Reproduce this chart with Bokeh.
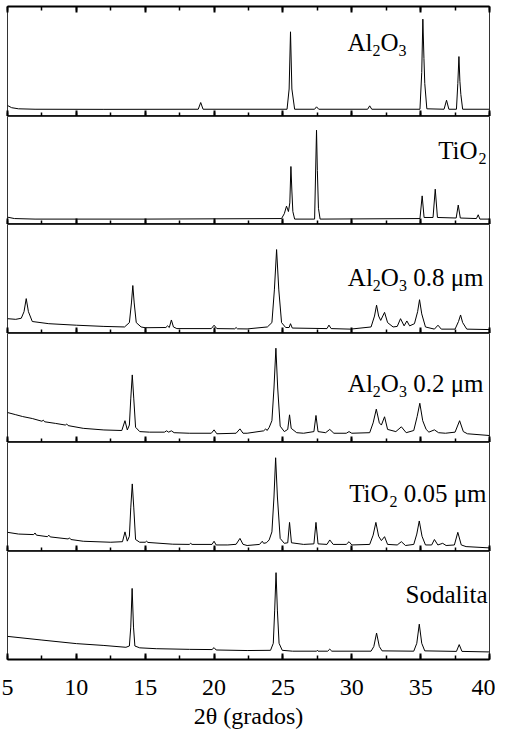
from bokeh.plotting import figure
from bokeh.models import Range1d, LinearAxis, SingleIntervalTicker, Label
from bokeh.layouts import column
from bokeh.embed import file_html
from bokeh.resources import INLINE

# ---------------- data (2theta in degrees, intensity in % of panel height) -------------
al2o3 = [(5.0, 10), (5.3, 8), (5.8, 7), (7.0, 6.6), (12.0, 6.5), (18.85, 6.6), (19.03, 12.7), (19.2, 6.6),
         (25.3, 6.6), (25.45, 25), (25.55, 77), (25.65, 25), (25.85, 6.6), (27.3, 6.6), (27.44, 8.8),
         (27.6, 6.6), (31.15, 6.6), (31.3, 9.7), (31.45, 6.6), (34.95, 6.6), (35.08, 40), (35.16, 88.5),
         (35.24, 52.7), (35.3, 30), (35.45, 7), (36.7, 6.6), (36.88, 14.8), (37.05, 6.6), (37.6, 6.6),
         (37.7, 30), (37.78, 54.5), (37.85, 32), (37.92, 20), (38.05, 6.6), (40.0, 6.6)]

tio2 = [(5.0, 6.8), (5.5, 5.5), (7.0, 5), (15.0, 5), (24.9, 5.5), (25.1, 10), (25.26, 17), (25.4, 12),
        (25.5, 20), (25.58, 53.7), (25.65, 31), (25.72, 12), (25.85, 5), (27.3, 5), (27.44, 87.3),
        (27.5, 50), (27.58, 15), (27.7, 5), (34.95, 5.5), (35.11, 26.5), (35.25, 6.5), (35.9, 6.5),
        (36.06, 32.7), (36.22, 6.5), (37.58, 6), (37.73, 18), (37.88, 6), (39.05, 5.5), (39.18, 9),
        (39.3, 5), (40.0, 5)]

al2o3_08 = [(5.0, 13.6), (5.6, 13), (6.0, 14), (6.2, 20), (6.36, 32), (6.52, 20), (6.8, 11), (8.0, 9),
            (10.0, 7.6), (12.0, 6.5), (13.5, 6), (13.85, 10), (14.0, 28), (14.1, 44), (14.2, 28),
            (14.35, 10), (14.7, 6), (15.0, 5.3), (16.5, 5.5), (16.62, 7), (16.75, 5.5), (16.9, 12.4),
            (17.05, 6), (17.3, 4.5), (19.8, 4.5), (20.0, 7.6), (20.2, 4.5), (21.5, 4.3), (21.6, 5.5),
            (21.7, 4.3), (22.4, 4.2), (23.87, 6), (24.2, 10), (24.38, 40), (24.54, 77), (24.7, 40),
            (24.9, 10), (25.2, 5.5), (25.45, 5.5), (25.55, 9), (25.68, 5), (28.2, 4.5), (28.34, 7.7),
            (28.5, 4.5), (29.9, 4), (31.4, 6), (31.65, 16), (31.8, 26), (31.95, 16), (32.1, 12),
            (32.38, 19.4), (32.6, 10), (33.0, 6), (33.3, 6.5), (33.54, 13.6), (33.8, 7), (34.0, 11.5),
            (34.2, 7), (34.55, 9), (34.78, 20), (34.92, 31), (35.08, 18), (35.35, 6), (36.0, 4),
            (36.26, 7.6), (36.5, 4), (37.5, 4), (37.75, 11), (37.9, 17), (38.05, 10), (38.35, 4),
            (40.0, 3.6)]

al2o3_02 = [(5.0, 27.5), (5.6, 25.5), (6.1, 23.8), (6.8, 22), (7.5, 19.5), (7.6, 20.5), (7.7, 19),
            (8.5, 17.5), (9.2, 16), (9.3, 17), (9.4, 15.5), (10.5, 13), (12.0, 11.5), (13.3, 11),
            (13.53, 20), (13.7, 11.5), (13.85, 16), (13.95, 40), (14.06, 62), (14.17, 40), (14.3, 14),
            (14.6, 10), (15.3, 9.5), (16.4, 9.5), (16.55, 10.7), (16.7, 9.5), (16.9, 10.7), (17.1, 9),
            (18.2, 8.5), (19.8, 8.5), (20.0, 11.6), (20.2, 8), (21.6, 8.5), (21.88, 12.5), (22.1, 8.5),
            (22.4, 8.5), (23.6, 10.7), (23.75, 12.5), (23.85, 11), (24.0, 13.8), (24.2, 20),
            (24.35, 50), (24.49, 86.5), (24.62, 50), (24.8, 15), (25.1, 10), (25.35, 12), (25.48, 25.4),
            (25.6, 13), (26.0, 9), (26.5, 8.5), (27.25, 10), (27.4, 24.8), (27.55, 10), (28.1, 9),
            (28.4, 12), (28.7, 8.5), (29.6, 8.5), (29.8, 10), (30.0, 8.5), (31.3, 9), (31.55, 18),
            (31.78, 30.6), (32.0, 18), (32.15, 16), (32.38, 23.6), (32.6, 12), (33.2, 10), (33.6, 14.4),
            (33.95, 9), (34.5, 11), (34.75, 24), (34.94, 36), (35.15, 20), (35.4, 12), (35.6, 9.5),
            (36.0, 11.6), (36.3, 9), (36.8, 8.5), (37.5, 9.5), (37.83, 20), (38.1, 10), (38.4, 8),
            (40.0, 6.4)]

tio2_005 = [(5.0, 17.6), (5.8, 16), (6.9, 15.5), (7.0, 17), (7.1, 15), (7.9, 13.6), (8.0, 15), (8.1, 13.4),
            (9.4, 11.5), (9.5, 12.5), (9.6, 11), (10.5, 9.4), (12.5, 8.5), (13.35, 9), (13.53, 18),
            (13.7, 9.5), (13.85, 14), (13.95, 40), (14.06, 62), (14.17, 40), (14.3, 11), (14.6, 8.5),
            (15.0, 8.5), (15.1, 9.4), (15.2, 8.3), (17.0, 6.7), (18.2, 6.5), (18.3, 7.5), (18.4, 6.5),
            (19.85, 6.5), (20.0, 9.4), (20.15, 6), (21.0, 6), (21.6, 6.6), (21.88, 12), (22.1, 6.6),
            (22.4, 5.5), (23.3, 6.5), (23.5, 9.4), (23.6, 7.5), (23.8, 8), (24.0, 10.6), (24.2, 18),
            (24.35, 50), (24.47, 86), (24.6, 50), (24.8, 12), (25.1, 7.5), (25.35, 8), (25.48, 26.7),
            (25.62, 8), (26.5, 6.5), (27.25, 7), (27.4, 26.7), (27.55, 7), (28.2, 6.5), (28.4, 10.6),
            (28.65, 6.5), (29.6, 6.5), (29.8, 9), (30.0, 6), (31.3, 6.5), (31.55, 15), (31.75, 26.7),
            (31.95, 14), (32.15, 10), (32.38, 13.6), (32.6, 6.5), (33.3, 6), (33.6, 9), (33.9, 5.5),
            (34.5, 6.5), (34.72, 16), (34.9, 28), (35.1, 14), (35.35, 6), (35.8, 6), (36.0, 11),
            (36.25, 6), (36.6, 7.5), (36.85, 5.5), (37.45, 6), (37.7, 17.6), (37.95, 6), (38.3, 4.5),
            (40.0, 3.3)]

sodalita = [(5.0, 21.4), (7.5, 18), (10.0, 14.7), (12.0, 13), (13.6, 11.3), (13.85, 12.5), (13.95, 30),
            (14.05, 65.8), (14.15, 30), (14.25, 12.5), (14.6, 10.8), (15.8, 10), (18.2, 9.4),
            (19.85, 9.2), (20.0, 11), (20.15, 8.8), (22.4, 8.3), (24.1, 8.5), (24.3, 15), (24.4, 45),
            (24.5, 80.4), (24.6, 45), (24.72, 15), (24.95, 8.5), (25.7, 7.7), (27.45, 7.7), (27.5, 8.5),
            (27.55, 7.7), (28.25, 7.7), (28.4, 9.6), (28.55, 7.7), (31.4, 7.7), (31.6, 12), (31.8, 24.5),
            (32.0, 12), (32.2, 8), (34.5, 7.7), (34.72, 15), (34.9, 32.7), (35.08, 15), (35.3, 8),
            (37.6, 7.5), (37.8, 13.8), (38.0, 7.5), (40.0, 7)]

# label pieces: (text, is_subscript); " " entries are gaps only
labels = [
    [("Al", 0), ("2", 1), ("O", 0), ("3", 1)],
    [("TiO", 0), ("2", 1)],
    [("Al", 0), ("2", 1), ("O", 0), ("3", 1), (" ", 0), ("0.8 μm", 0)],
    [("Al", 0), ("2", 1), ("O", 0), ("3", 1), (" ", 0), ("0.2 μm", 0)],
    [("TiO", 0), ("2", 1), (" ", 0), ("0.05 μm", 0)],
    [("Sodalita", 0)],
]
series = [al2o3, tio2, al2o3_08, al2o3_02, tio2_005, sodalita]

x_ticks_interval = 5
x_label = "2θ (grados)"

# ---------------- styling / layout -------------
FONT = "Liberation Serif"
MAIN = 25
SUB = 16
frame_heights = [110, 108, 109, 109, 109, 108]
label_baseline = [67, 68.5, 51, 54, 53.6, 60.5]
label_right_gap = [83, 3, 5, 5, 2, 2]  # px from the frame's right edge

EM = {"A": .722, "l": .278, "T": .611, "i": .278, "O": .722, "S": .556, "o": .5, "d": .5,
      "a": .444, "t": .278, "0": .5, "2": .5, "3": .5, "5": .5, "8": .5, ".": .25, " ": .25,
      "μ": .576, "m": .778}


def text_width(t, size):
    return sum(EM.get(c, .5) for c in t) * size


def make_axis(show_labels):
    ax = LinearAxis(ticker=SingleIntervalTicker(interval=x_ticks_interval, num_minor_ticks=2),
                    axis_line_width=2, axis_line_color="black",
                    major_tick_in=6, major_tick_out=0, minor_tick_in=4, minor_tick_out=0,
                    major_tick_line_width=2, minor_tick_line_width=1.5)
    if show_labels:
        ax.major_label_text_font = FONT
        ax.major_label_text_font_size = "24px"
        ax.major_label_text_color = "black"
        ax.major_label_standoff = 20
        ax.axis_label = x_label
        ax.axis_label_text_font = FONT
        ax.axis_label_text_font_size = "24px"
        ax.axis_label_text_font_style = "normal"
        ax.axis_label_text_color = "black"
        ax.axis_label_standoff = 5
    else:
        ax.major_label_text_font_size = "1px"
        ax.major_label_text_color = None
        ax.major_label_text_alpha = 0
        ax.major_label_standoff = 0
    return ax


x_range = Range1d(5, 40)
figs = []
n = len(series)
for i, pts in enumerate(series):
    last = i == n - 1
    p = figure(frame_width=482, frame_height=frame_heights[i], x_range=x_range,
               y_range=Range1d(0, 100), output_backend="svg", toolbar_location=None,
               x_axis_location=None, y_axis_location=None,
               min_border_left=7, min_border_right=6, min_border_top=6 if i == 0 else 0,
               min_border_bottom=0,
               outline_line_color="black", outline_line_width=1, outline_line_alpha=0.8)
    p.xgrid.visible = False
    p.ygrid.visible = False

    p.add_layout(make_axis(last), "below")
    if i == 0:
        p.add_layout(make_axis(False), "above")

    xs = [a for a, b in pts]
    ys = [b for a, b in pts]
    p.line(xs, ys, line_color="black", line_width=1)

    pieces = labels[i]
    total = sum(text_width(t, SUB if s else MAIN) for t, s in pieces)
    cur = -label_right_gap[i] - total
    for t, s in pieces:
        size = SUB if s else MAIN
        if t.strip():
            p.add_layout(Label(x=40, y=label_baseline[i], x_offset=cur, y_offset=-8 if s else 0,
                               text=t, text_font=FONT, text_font_size=f"{size}px",
                               text_color="black", text_align="left",
                               text_baseline="alphabetic"))
        cur += text_width(t, size)
    figs.append(p)

layout = column(*figs, spacing=0)
open("out.html", "w").write(file_html(layout, INLINE))
